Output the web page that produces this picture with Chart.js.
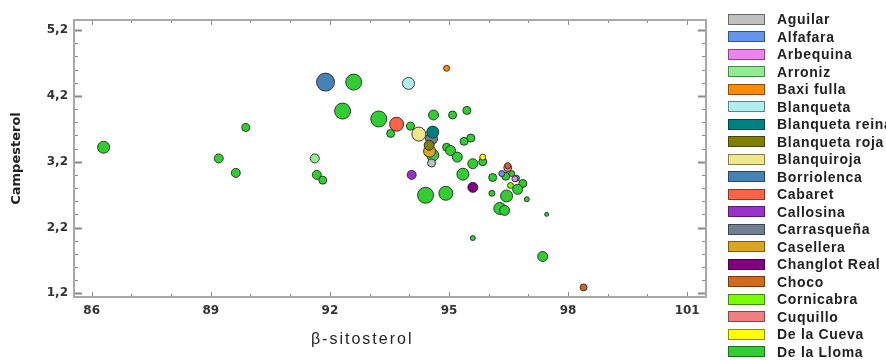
<!DOCTYPE html>
<html>
<head>
<meta charset="utf-8">
<script src="https://cdn.jsdelivr.net/npm/chart.js@4"></script>
<style>
html,body{margin:0;padding:0;background:#fff;}
#wrap{position:relative;width:886px;height:360px;overflow:hidden;}
#chart{position:absolute;left:0;top:0;}
#legend{position:absolute;left:0;top:0;width:886px;height:360px;pointer-events:none;}
.lg-box{position:absolute;left:728px;width:35px;height:9px;border:1px solid rgba(0,0,0,0.45);}
.lg-text{position:absolute;left:777px;font-family:"Liberation Sans",Arial,sans-serif;font-weight:bold;font-size:14px;letter-spacing:0.7px;color:#222;white-space:nowrap;line-height:16px;}
</style>
</head>
<body>
<div id="wrap">
<canvas id="chart" width="886" height="360"></canvas>
<div id="legend"></div>
</div>
<script>
// ---- data ----
const varieties = ['Aguilar','Alfafara','Arbequina','Arroniz','Baxi fulla','Blanqueta','Blanqueta reina','Blanqueta roja','Blanquiroja','Borriolenca','Cabaret','Callosina','Carrasqueña','Casellera','Changlot Real','Choco','Cornicabra','Cuquillo','De la Cueva','De la Lloma'];
const varietyColors = ['#c0c0c0','#6495ed','#ee82ee','#90ee90','#ff8c00','#afeeee','#008080','#808000','#f0e68c','#4682b4','#ff6347','#9932cc','#708090','#daa520','#800080','#d2691e','#7cfc00','#f08080','#ffff00','#32cd32'];

// one entry per sample: variety, beta-sitosterol, campesterol, bubble weight
const pointVariety = [
 'Aguilar','Alfafara','Arbequina','Arroniz','Baxi fulla','Blanqueta','Blanqueta reina','Blanqueta roja','Blanquiroja','Borriolenca',
 'Cabaret','Callosina','Carrasqueña','Casellera','Changlot Real','Choco','Choco','Cornicabra','Cuquillo','De la Cueva',
 'De la Lloma','De la Lloma','De la Lloma','De la Lloma','De la Lloma','De la Lloma','De la Lloma','De la Lloma','De la Lloma','De la Lloma',
 'De la Lloma','De la Lloma','De la Lloma','De la Lloma','De la Lloma','De la Lloma','De la Lloma','De la Lloma','De la Lloma','De la Lloma',
 'De la Lloma','De la Lloma','De la Lloma','De la Lloma','De la Lloma','De la Lloma','De la Lloma','De la Lloma','De la Lloma','De la Lloma',
 'De la Lloma','De la Lloma','De la Lloma','De la Lloma','De la Lloma','De la Lloma','De la Lloma','De la Lloma','De la Lloma'
];
const betaSitosterol = [
 94.56, 96.33, 96.66, 91.62, 94.94, 93.98, 94.59, 94.50, 94.24, 91.89,
 93.68, 94.06, 94.56, 94.51, 95.60, 98.39, 96.48, 96.55, 96.48, 95.85,
 86.30, 89.20, 89.63, 89.88, 91.67, 91.82, 92.60, 92.32, 93.23, 93.53,
 94.03, 94.61, 95.09, 95.45, 94.59, 94.41, 94.92, 94.94, 95.04, 95.21,
 95.38, 95.55, 95.35, 95.60, 95.85, 96.10, 96.08, 96.43, 96.58, 96.86,
 96.73, 96.45, 96.96, 96.28, 96.40, 97.46, 95.60, 97.36, 96.70
];
const campesterol = [
 3.18, 3.02, 2.94, 3.25, 4.62, 4.39, 3.65, 3.45, 3.62, 4.41,
 3.77, 3.00, 3.55, 3.36, 2.81, 1.29, 3.14, 2.84, 3.11, 3.27,
 3.42, 3.25, 3.03, 3.72, 3.00, 2.92, 4.41, 3.97, 3.85, 3.63,
 3.74, 3.91, 3.91, 3.98, 3.30, 2.69, 2.72, 3.42, 3.37, 3.27,
 3.51, 3.56, 3.01, 3.17, 3.20, 2.96, 2.72, 2.98, 3.02, 2.87,
 2.78, 2.68, 2.63, 2.49, 2.46, 2.40, 2.04, 1.76, 2.95
];
const bubbleWeight = [
 4, 3, 3, 4.5, 3, 6, 6, 5, 7, 9,
 7, 4.5, 6, 6, 5, 3.5, 3, 3, 4, 3,
 6, 4.5, 4.5, 4, 4.5, 4, 8, 8, 8, 4,
 4, 5, 4, 4, 6, 8, 7, 4, 5, 5,
 4, 4, 6, 5, 4, 4, 3, 4, 3, 4,
 5, 6, 2.5, 6, 5, 2, 2.5, 5, 3
];
const xTicks = [86, 89, 92, 95, 98, 101];
const yTicks = [1.2, 2.2, 3.2, 4.2, 5.2];

// ---- build datasets ----
const datasets = varieties.map((name, i) => {
  const data = [];
  pointVariety.forEach((v, k) => {
    if (v === name) data.push({x: betaSitosterol[k], y: campesterol[k], r: bubbleWeight[k]});
  });
  return {
    label: name,
    data,
    backgroundColor: varietyColors[i],
    borderColor: 'rgba(30,30,30,0.85)',
    borderWidth: 1
  };
});

// ---- legend (HTML) ----
const lg = document.getElementById('legend');
varieties.forEach((name, i) => {
  const top = 13.5 + i * 17.5;
  const b = document.createElement('div');
  b.className = 'lg-box';
  b.style.top = top + 'px';
  b.style.background = varietyColors[i];
  lg.appendChild(b);
  const t = document.createElement('div');
  t.className = 'lg-text';
  t.style.top = (top - 2.5) + 'px';
  t.textContent = name;
  lg.appendChild(t);
});

// ---- frame, inward ticks and x title ----
const framePlugin = {
  id: 'frame',
  afterDraw(chart) {
    const ctx = chart.ctx, ca = chart.chartArea;
    const xs = chart.scales.x, ys = chart.scales.y;
    ctx.save();
    ctx.strokeStyle = '#8a8a8a';
    for (let v = 86; v <= 101; v++) {
      const px = Math.round(xs.getPixelForValue(v)) + 0.5;
      const major = (v - 86) % 3 === 0;
      const len = major ? 5 : 3;
      ctx.lineWidth = 1;
      ctx.beginPath();
      ctx.moveTo(px, ca.bottom); ctx.lineTo(px, ca.bottom - len);
      ctx.moveTo(px, ca.top); ctx.lineTo(px, ca.top + len);
      ctx.stroke();
    }
    for (let k = 0; k <= 20; k++) {
      const v = 1.2 + k * 0.2;
      const py = Math.round(ys.getPixelForValue(v)) + 0.5;
      const major = k % 5 === 0;
      const len = major ? 8 : 4;
      ctx.lineWidth = major ? 2 : 1;
      ctx.beginPath();
      ctx.moveTo(ca.left, py); ctx.lineTo(ca.left + len, py);
      ctx.moveTo(ca.right, py); ctx.lineTo(ca.right - len, py);
      ctx.stroke();
    }
    ctx.lineWidth = 2;
    ctx.strokeStyle = '#a8a8a8';
    ctx.strokeRect(ca.left, ca.top, ca.right - ca.left, ca.bottom - ca.top);
    ctx.fillStyle = '#222';
    ctx.font = '16px "Liberation Sans", Arial, sans-serif';
    try { ctx.letterSpacing = '2px'; } catch (e) {}
    ctx.textAlign = 'center';
    ctx.textBaseline = 'middle';
    ctx.fillText('β-sitosterol', ca.left + (ca.right - ca.left) * 0.456, 340);
    ctx.restore();
  }
};

new Chart(document.getElementById('chart'), {
  type: 'bubble',
  data: { datasets },
  options: {
    responsive: false,
    animation: false,
    layout: { padding: { top: 20, right: 180, bottom: 0, left: 0 } },
    plugins: { legend: { display: false }, tooltip: { enabled: false } },
    scales: {
      x: {
        type: 'linear',
        min: 85.554, max: 101.474,
        afterBuildTicks: s => { s.ticks = xTicks.map(v => ({ value: v })); },
        afterFit: s => { s.height = 63; },
        grid: { display: false, drawTicks: false },
        border: { display: false },
        ticks: {
          padding: 7,
          color: '#333',
          font: { family: 'DejaVu Sans', weight: 'bold', size: 12 },
          callback: v => String(v)
        }
      },
      y: {
        type: 'linear',
        min: 1.144, max: 5.354,
        afterBuildTicks: s => { s.ticks = yTicks.map(v => ({ value: v })); },
        afterFit: s => { s.width = 74; },
        grid: { display: false, drawTicks: false },
        border: { display: false },
        ticks: {
          padding: 6,
          color: '#333',
          font: { family: 'DejaVu Sans', weight: 'bold', size: 12 },
          callback: v => Number(v).toFixed(1).replace('.', ',')
        },
        title: {
          display: true,
          text: 'Campesterol',
          color: '#222',
          font: { family: 'DejaVu Sans', weight: 'bold', size: 13 },
          padding: { top: 9, bottom: 0 }
        }
      }
    }
  },
  plugins: [framePlugin]
});
</script>
</body>
</html>
